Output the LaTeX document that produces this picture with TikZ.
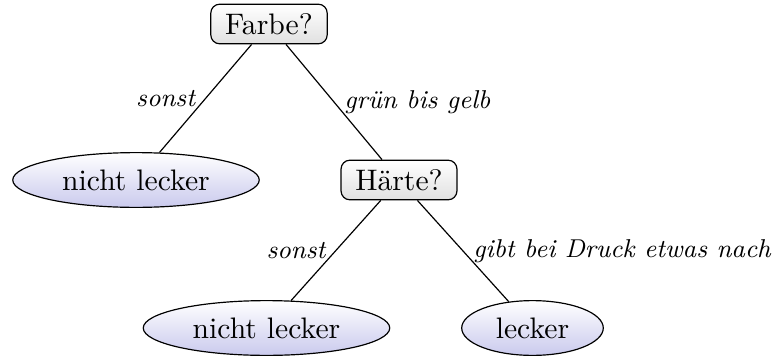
\documentclass[tikz,border=0pt]{standalone}
\usetikzlibrary{shapes.geometric}
\definecolor{leafbottom}{rgb}{0.79,0.79,0.93}
\begin{document}
\begin{tikzpicture}[x=0.337pt, y=-0.337pt,
  question/.style={draw, rounded corners=3pt,
    top color=white, bottom color=black!12, inner xsep=4.8pt, inner ysep=3.1pt},
  leaf/.style={draw, ellipse, inner xsep=4.5pt, inner ysep=3pt,
    top color=white, bottom color=leafbottom},
  lbl/.style={font=\fontsize{8.7}{10}\selectfont\itshape, inner sep=3.3pt}]
\useasboundingbox (0,0) rectangle (774,360);
\node[question] (farbe) at (269,24) {Farbe?};
\node[leaf] (nl1) at (136,180) {nicht lecker};
\node[question] (haerte) at (399,180) {Härte?};
\node[leaf] (nl2) at (266.5,328) {nicht lecker};
\node[leaf] (leck) at (532.5,328) {lecker};
\draw (farbe) -- node[lbl, midway, anchor=east] {sonst} (nl1);
\draw (farbe) -- node[lbl, midway, anchor=west] {grün bis gelb} (haerte);
\draw (haerte) -- node[lbl, midway, anchor=east] {sonst} (nl2);
\draw (haerte) -- node[lbl, midway, anchor=west] {gibt bei Druck etwas nach} (leck);
\end{tikzpicture}
\end{document}
